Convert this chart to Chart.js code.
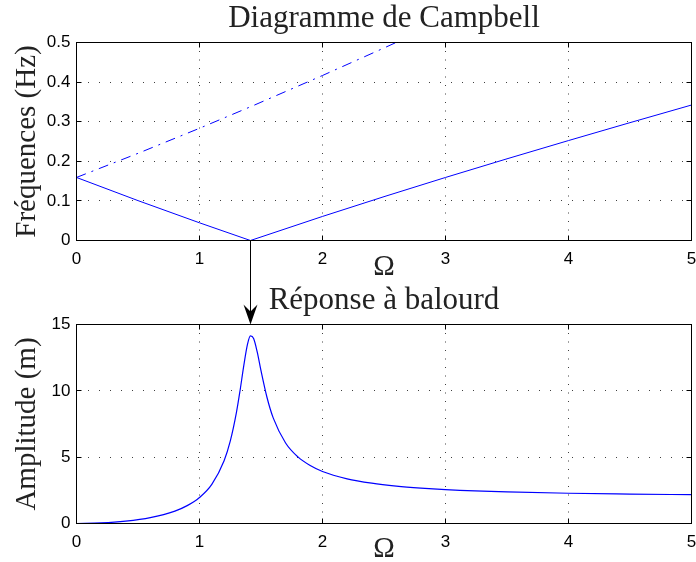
<!DOCTYPE html>
<html lang="fr">
<head>
<meta charset="utf-8">
<title>Diagramme de Campbell</title>
<script src="https://cdn.jsdelivr.net/npm/chart.js@4.4.1/dist/chart.umd.min.js"></script>
<style>
  html, body { margin: 0; padding: 0; background: #fff; overflow: hidden; }
  #wrap { position: relative; width: 696px; height: 562px; }
  canvas { position: absolute; left: 0; }
  #campbell { top: 0; }
  #balourd { top: 282px; }
</style>
</head>
<body>
<div id="wrap">
  <canvas id="campbell" width="696" height="282"></canvas>
  <canvas id="balourd" width="696" height="282"></canvas>
</div>
<script>
// Diagramme de Campbell : fréquences (Hz) en fonction de Omega
const omegaCampbell = [0, 0.5, 1, 1.414, 2, 2.5, 3, 3.5, 4, 4.5, 5];
const freqMode1 = [0.1592, 0.1007, 0.0447, 0, 0.0608, 0.1107, 0.1592, 0.2063, 0.2524, 0.2976, 0.3421];
const freqMode2 = [0.1592, 0.2201, 0.2834, 0.3376, 0.4167, 0.4861, 0.5570, 0.6293, 0.7025, 0.7767, 0.8516];

// Réponse à balourd : amplitude (m)
const omegaBalourd = [0, 0.2, 0.4, 0.6, 0.8, 0.9, 1, 1.1, 1.2, 1.25, 1.3, 1.33, 1.36, 1.39, 1.414,
  1.44, 1.47, 1.5, 1.55, 1.6, 1.7, 1.8, 1.9, 2, 2.2, 2.4, 2.6, 2.8, 3, 3.5, 4, 4.5, 5];
const amplitude = [0, 0.041, 0.174, 0.438, 0.935, 1.346, 1.961, 2.951, 4.727, 6.202, 8.354, 10.04, 11.90, 13.50, 14.14,
  13.95, 12.90, 11.52, 9.46, 7.94, 6.07, 5.02, 4.37, 3.92, 3.37, 3.04, 2.82, 2.67, 2.56, 2.38, 2.28, 2.22, 2.17];

// Graduations
const omegaTicks = [0, 1, 2, 3, 4, 5];
const freqTicks = [0, 0.1, 0.2, 0.3, 0.4, 0.5];
const ampTicks = [0, 5, 10, 15];
const omegaCritique = 1.414;

const serif = '"Liberation Serif", "Times New Roman", serif';
const sans = '"Liberation Sans", Arial, sans-serif';
const bleu = '#0000ff';
const gridColor = 'rgba(0,0,0,0.75)';

function points(xs, ys) {
    return xs.map((x, i) => ({ x: x, y: ys[i] }));
}

// Cadre noir + petites graduations vers l'intérieur (style MATLAB)
const cadre = {
    id: 'cadre',
    afterDatasetsDraw(chart) {
        const { ctx, chartArea: a, scales: { x, y } } = chart;
        ctx.save();
        ctx.strokeStyle = '#000';
        ctx.lineWidth = 1;
        ctx.beginPath();
        x.ticks.forEach(t => {
            const px = Math.floor(x.getPixelForValue(t.value)) + 0.5;
            ctx.moveTo(px, a.bottom); ctx.lineTo(px, a.bottom - 5);
            ctx.moveTo(px, a.top); ctx.lineTo(px, a.top + 5);
        });
        y.ticks.forEach(t => {
            const py = Math.floor(y.getPixelForValue(t.value)) + 0.5;
            ctx.moveTo(a.left, py); ctx.lineTo(a.left + 5, py);
            ctx.moveTo(a.right, py); ctx.lineTo(a.right - 5, py);
        });
        ctx.stroke();
        ctx.strokeRect(a.left, a.top, a.right - a.left, a.bottom - a.top);
        ctx.restore();
    }
};

// Flèche reliant la vitesse critique à la réponse
const flecheHaut = {
    id: 'flecheHaut',
    afterDraw(chart) {
        const { ctx, chartArea: a } = chart;
        const px = Math.floor(chart.scales.x.getPixelForValue(omegaCritique)) + 0.5;
        ctx.save();
        ctx.strokeStyle = '#000';
        ctx.lineWidth = 1;
        ctx.beginPath();
        ctx.moveTo(px, a.bottom);
        ctx.lineTo(px, chart.height);
        ctx.stroke();
        ctx.restore();
    }
};

const flecheBas = {
    id: 'flecheBas',
    afterDraw(chart) {
        const { ctx, chartArea: a } = chart;
        const px = Math.floor(chart.scales.x.getPixelForValue(omegaCritique)) + 0.5;
        ctx.save();
        ctx.strokeStyle = '#000';
        ctx.fillStyle = '#000';
        ctx.lineWidth = 1;
        ctx.beginPath();
        ctx.moveTo(px, 0);
        ctx.lineTo(px, a.top - 12);
        ctx.stroke();
        ctx.beginPath();
        ctx.moveTo(px, a.top);
        ctx.lineTo(px - 7, a.top - 20);
        ctx.lineTo(px, a.top - 13);
        ctx.lineTo(px + 7, a.top - 20);
        ctx.closePath();
        ctx.fill();
        ctx.restore();
    }
};

function options(titre, yTicks, yMax, yTitre, xHeight, titrePad) {
    return {
        responsive: false,
        animation: false,
        events: [],
        locale: 'en-US',
        layout: { padding: { left: 0, right: 4.5, top: 0, bottom: 0 } },
        scales: {
            x: {
                type: 'linear', min: 0, max: 5,
                afterBuildTicks: s => { s.ticks = omegaTicks.map(v => ({ value: v })); },
                afterFit: s => {
                    s.height = xHeight;
                    s.paddingLeft = 0; s.paddingRight = 0;
                },
                grid: { color: gridColor, lineWidth: 1, drawTicks: false },
                border: { display: false, dash: [1, 7.5] },
                ticks: { padding: 9, color: '#000', font: { family: sans, size: 17 } },
                title: {
                    display: true, text: 'Ω', color: '#222',
                    font: { family: serif, size: 29, lineHeight: 1 },
                    padding: { top: 0, bottom: 0.5 }
                }
            },
            y: {
                type: 'linear', min: 0, max: yMax,
                afterBuildTicks: s => { s.ticks = yTicks.map(v => ({ value: v })); },
                afterFit: s => {
                    s.width = 76.5;
                    s.paddingTop = 0; s.paddingBottom = 0;
                },
                grid: { color: gridColor, lineWidth: 1, drawTicks: false },
                border: { display: false, dash: [1, 10] },
                ticks: { padding: 6, color: '#000', font: { family: sans, size: 17 } },
                title: {
                    display: true, text: yTitre, color: '#222',
                    font: { family: serif, size: 29, lineHeight: 1 },
                    padding: { top: 12.5, bottom: 0 }
                }
            }
        },
        plugins: {
            legend: { display: false },
            tooltip: { enabled: false },
            title: {
                display: true, text: titre, fullSize: false, color: '#222',
                font: { family: serif, size: 31, weight: 'normal', lineHeight: 1.2 },
                padding: titrePad
            }
        }
    };
}

// Diagramme de Campbell
new Chart(document.getElementById('campbell'), {
    type: 'scatter',
    data: {
        datasets: [
            {
                label: 'Mode 1',
                data: points(omegaCampbell, freqMode1),
                showLine: true, borderColor: bleu, borderWidth: 1,
                pointRadius: 0, tension: 0
            },
            {
                label: 'Mode 2',
                data: points(omegaCampbell, freqMode2),
                showLine: true, borderColor: bleu, borderWidth: 1,
                borderDash: [10, 6, 2, 6],
                pointRadius: 0, tension: 0
            }
        ]
    },
    options: options('Diagramme de Campbell', freqTicks, 0.5, 'Fréquences (Hz)', 41.5, { top: 0, bottom: 5.3 }),
    plugins: [cadre, flecheHaut]
});

// Réponse à balourd
new Chart(document.getElementById('balourd'), {
    type: 'scatter',
    data: {
        datasets: [{
            label: 'Amplitude',
            data: points(omegaBalourd, amplitude),
            showLine: true, borderColor: bleu, borderWidth: 1.2,
            pointRadius: 0, cubicInterpolationMode: 'monotone'
        }]
    },
    options: options('Réponse à balourd', ampTicks, 15, 'Amplitude (m)', 40.5, { top: 0, bottom: 5.3 }),
    plugins: [cadre, flecheBas]
});
</script>
</body>
</html>
